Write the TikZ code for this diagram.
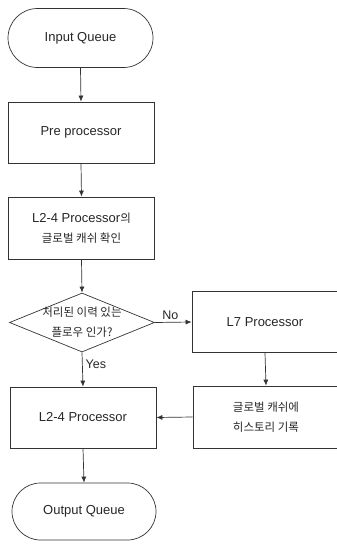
\documentclass[tikz,border=0pt]{standalone}
\usepackage{fontspec}
\setmainfont{Liberation Sans}
\newfontfamily\krfont{Noto Sans CJK KR}
\usetikzlibrary{shapes.geometric,shapes.misc,arrows.meta}
\begin{document}
\begin{tikzpicture}[x=1pt,y=-1pt,
  every node/.style={font=\fontsize{13}{20}\selectfont, text=black!85},
  term/.style={draw=black!80, line width=0.7pt, rounded rectangle, minimum width=145pt, minimum height=59pt, inner sep=0pt},
  procbox/.style={draw=black!80, line width=0.7pt, rectangle, minimum width=146pt, minimum height=61pt, inner sep=0pt, align=center},
  decide/.style={draw=black!80, line width=0.7pt, diamond, minimum width=145pt, minimum height=59pt, inner sep=0pt},
  kr/.style={font=\fontsize{11.5}{20}\selectfont\krfont, align=center},
  flow/.style={draw=black!80, line width=0.7pt, -{Latex[length=6pt,width=5pt]}},
  lbl/.style={font=\fontsize{12.5}{15}\selectfont}
]
\useasboundingbox (0,0) rectangle (337,544);
\node[term] (inq) at (80.5,38) {Input Queue};
\node[procbox] (pre) at (81,132.5) {Pre processor};
\node[procbox, minimum height=62pt] (chk) at (81.5,228) {};
\node[kr] (chkt) at (chk.center) {{\rmfamily\fontsize{13}{20}\selectfont L2-4 Processor}의\\글로벌 캐쉬 확인};
\node[decide] (dia) at (82,322.5) {};
\node[kr] (diat) at (dia.center) {처리된 이력 있는\\플로우 인가?};
\node[procbox] (l7) at (265,322) {L7 Processor};
\node[procbox, minimum height=62pt] (glob) at (266,417) {};
\node[kr] (globt) at (glob.center) {글로벌 캐쉬에\\히스토리 기록};
\node[procbox] (l24) at (83,417.5) {L2-4 Processor};
\node[term, minimum width=144pt, minimum height=57pt] (outq) at (84,511.5) {Output Queue};
\draw[flow] (inq.south) -- (pre.north);
\draw[flow] (pre.south) -- (chk.north);
\draw[flow] (chk.south) -- (dia.north);
\draw[flow] (dia.east) -- node[lbl, above, pos=0.42, inner sep=2pt] {No} (l7.west);
\draw[flow] (dia.south) -- node[lbl, right, pos=0.35, inner sep=3pt] {Yes} (l24.north);
\draw[flow] (l7.south) -- (glob.north);
\draw[flow] (glob.west) -- (l24.east);
\draw[flow] (l24.south) -- (outq.north);
\end{tikzpicture}
\end{document}
